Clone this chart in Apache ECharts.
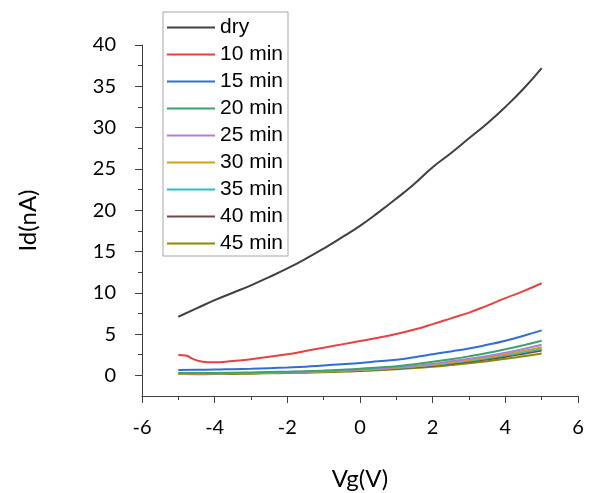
<!DOCTYPE html>
<html>
<head>
<meta charset="utf-8">
<script src="https://cdn.jsdelivr.net/npm/echarts@6/dist/echarts.min.js"></script>
<style>html,body{margin:0;padding:0;background:#fff;}#c{width:595px;height:493px;}</style>
</head>
<body>
<div id="c"></div>
<script>
var vg = [-5,-4.5,-4,-3.5,-3,-2.5,-2,-1.5,-1,-0.5,0,0.5,1,1.5,2,2.5,3,3.5,4,4.5,5];
var vg10 = [-5,-4.8,-4.6,-4.4,-4.2,-4,-3.5,-3,-2.5,-2,-1.5,-1,-0.5,0,0.5,1,1.5,2,2.5,3,3.5,4,4.5,5];
var seriesNames = ['dry','10 min','15 min','20 min','25 min','30 min','35 min','40 min','45 min'];
var colors = ['#404040','#e8413f','#2f6fd4','#3aa56b','#b07fd6','#d2a01a','#1fc3c3','#6e4b4b','#8c8a00'];
var dry = [7.1,8.1,9.1,10.0,10.9,11.9,12.95,14.1,15.35,16.7,18.1,19.7,21.4,23.2,25.2,26.9,28.7,30.5,32.5,34.7,37.2];
var min10 = [2.45,2.4,2.0,1.7,1.6,1.58,1.75,1.95,2.25,2.55,2.95,3.35,3.75,4.15,4.55,5.0,5.55,6.2,6.9,7.6,8.45,9.35,10.2,11.15];
var min15 = [0.65,0.68,0.7,0.75,0.8,0.87,0.95,1.05,1.2,1.35,1.5,1.7,1.9,2.2,2.55,2.9,3.25,3.7,4.2,4.8,5.45];
var min20 = [0.3,0.3,0.3,0.32,0.35,0.4,0.45,0.5,0.58,0.68,0.8,0.95,1.1,1.35,1.65,1.95,2.3,2.7,3.15,3.65,4.2];
var min25 = [0.25,0.25,0.26,0.28,0.3,0.35,0.4,0.45,0.52,0.6,0.7,0.82,0.97,1.17,1.4,1.7,2.0,2.35,2.75,3.2,3.7];
var min30 = [0.2,0.2,0.22,0.25,0.28,0.32,0.36,0.42,0.48,0.56,0.66,0.78,0.92,1.1,1.32,1.58,1.86,2.18,2.55,2.95,3.4];
var min35 = [0.25,0.25,0.25,0.27,0.3,0.33,0.37,0.42,0.48,0.55,0.64,0.75,0.88,1.05,1.25,1.5,1.77,2.07,2.42,2.8,3.2];
var min40 = [0.2,0.2,0.21,0.23,0.26,0.3,0.34,0.39,0.45,0.52,0.6,0.7,0.83,0.98,1.17,1.4,1.65,1.94,2.26,2.62,3.0];
var min45 = [0.15,0.14,0.15,0.17,0.2,0.24,0.28,0.33,0.38,0.44,0.52,0.62,0.74,0.88,1.05,1.25,1.47,1.72,2.0,2.3,2.65];
var yLabels = [0,5,10,15,20,25,30,35,40];
var yMinor = [2.5,7.5,12.5,17.5,22.5,27.5,32.5,37.5];

var allValues = [dry,min10,min15,min20,min25,min30,min35,min40,min45];
var allX = [vg,vg10,vg,vg,vg,vg,vg,vg,vg];

function pairs(xs, ys){ return xs.map(function(x,i){ return [x, ys[i]]; }); }

var axisColor = '#404040';
var series = seriesNames.map(function(name, i){
  return {
    name: name, type: 'line', smooth: true, symbol: 'none',
    data: pairs(allX[i], allValues[i]),
    lineStyle: {width: 2, color: colors[i]},
    itemStyle: {color: colors[i]},
    z: 10 - i
  };
});

var chart = echarts.init(document.getElementById('c'), null, {renderer:'canvas'});
chart.setOption({
  animation: false,
  backgroundColor: '#ffffff',
  grid: {left: 142, right: 17, top: 45, bottom: 97, containLabel: false, outerBoundsMode: 'none'},
  legend: {
    orient: 'vertical', left: 163, top: 12,
    data: seriesNames,
    icon: 'rect',
    itemWidth: 48, itemHeight: 2, itemGap: 6,
    padding: [5, 5, 2, 4],
    borderColor: '#a6a6a6', borderWidth: 1, backgroundColor: '#ffffff',
    textStyle: {fontFamily: 'Liberation Sans', fontSize: 21, color: '#000', lineHeight: 21},
    z: 20
  },
  xAxis: {
    type: 'value', min: -6, max: 6, interval: 2,
    name: 'Vg(V)', nameLocation: 'middle', nameGap: 71,
    nameTextStyle: {fontFamily: 'Lato', fontSize: 24, color: '#000'},
    axisLine: {onZero: false, lineStyle: {color: axisColor, width: 1}},
    axisTick: {show: true, length: 7, lineStyle: {color: axisColor}},
    minorTick: {show: true, splitNumber: 2, length: 4, lineStyle: {color: axisColor}},
    axisLabel: {fontFamily: 'Lato', fontSize: 20, color: '#000', margin: 22},
    splitLine: {show: false}
  },
  yAxis: [{
    type: 'value', min: -2.5, max: 40, interval: 2.5, position: 'left',
    name: 'Id(nA)', nameLocation: 'middle', nameGap: 102, nameRotate: 90,
    nameTextStyle: {fontFamily: 'Lato', fontSize: 24, color: '#000'},
    axisLine: {show: true, onZero: false, lineStyle: {color: axisColor, width: 1}},
    axisTick: {show: true, length: 7, customValues: yLabels, lineStyle: {color: axisColor}},
    axisLabel: {fontFamily: 'Lato', fontSize: 20, color: '#000', margin: 26, customValues: yLabels},
    splitLine: {show: false}
  },{
    type: 'value', min: -2.5, max: 40, interval: 2.5, position: 'left', offset: 0,
    axisLine: {show: false, onZero: false},
    axisTick: {show: true, length: 4, customValues: yMinor, lineStyle: {color: axisColor}},
    axisLabel: {show: false},
    splitLine: {show: false}
  }],
  series: series
});
</script>
</body>
</html>
